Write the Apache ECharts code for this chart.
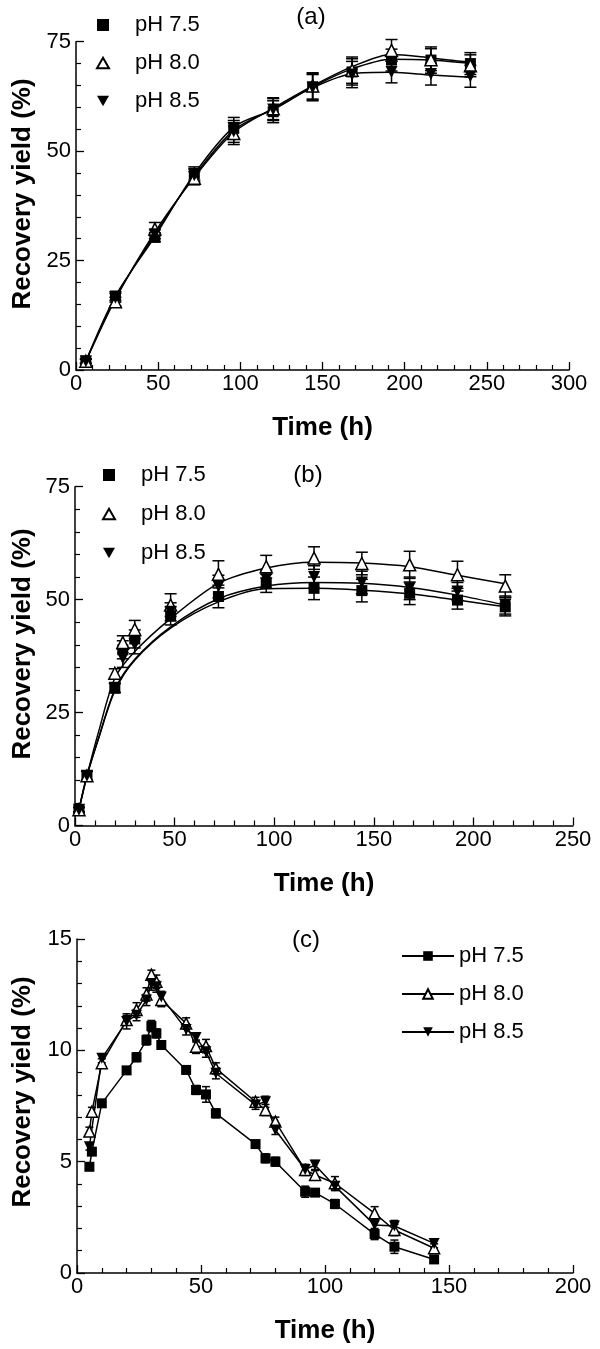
<!DOCTYPE html>
<html><head><meta charset="utf-8">
<script src="https://cdn.jsdelivr.net/npm/echarts@6/dist/echarts.min.js"></script>
<style>html,body{margin:0;padding:0;background:#fff}#c{width:600px;height:1349px}</style>
</head><body><div id="c"></div>
<script>
// ---------- data ----------
const LABELS = ['pH 7.5', 'pH 8.0', 'pH 8.5'];

// Panel (a)
const A_T = [6, 24, 48, 72, 96, 120, 144, 168, 192, 216, 240];
const A_75 = [2.0, 16.9, 30.3, 44.9, 55.2, 59.0, 64.7, 68.1, 70.8, 70.8, 70.0];
const A_80 = [2.0, 15.6, 32.2, 43.8, 54.0, 59.7, 64.9, 68.5, 73.0, 70.9, 69.5];
const A_85 = [2.0, 16.5, 31.0, 44.5, 54.5, 59.5, 64.5, 67.5, 68.1, 67.6, 67.1];
const A_75_ERR = [0.5, 1.0, 1.0, 1.5, 2.5, 2.5, 3.0, 3.0, 2.5, 3.0, 2.5];
const A_80_ERR = [0.5, 1.0, 1.5, 1.5, 2.5, 2.5, 3.0, 3.0, 2.5, 2.5, 2.5];
const A_85_ERR = [0.5, 1.0, 1.0, 1.5, 2.5, 2.5, 3.0, 3.0, 2.5, 2.5, 2.5];
// fitted curves (a)
const A_CURVE_T = [6, 24, 48, 72, 96, 120, 144, 168, 192, 216, 240];
const A_CURVE_75 = [2.0, 16.9, 30.5, 44.8, 55.5, 59.5, 64.7, 68.8, 71.0, 70.8, 70.0];
const A_CURVE_80 = [2.0, 16.2, 31.5, 44.0, 54.3, 59.8, 64.9, 69.3, 72.1, 71.3, 70.3];
const A_CURVE_85 = [2.0, 16.5, 31.0, 44.3, 54.8, 59.6, 64.5, 67.7, 68.0, 67.4, 66.9];

// Panel (b)
const B_T = [2, 6, 20, 24, 30, 48, 72, 96, 120, 144, 168, 192, 216];
const B_75 = [3.5, 11.0, 30.4, 38.9, 41.3, 46.4, 50.7, 53.6, 52.5, 52.0, 51.4, 49.9, 48.4];
const B_80 = [3.5, 11.0, 33.7, 40.5, 43.4, 48.8, 55.6, 57.3, 59.2, 58.0, 57.7, 55.5, 53.0];
const B_85 = [3.5, 11.0, 30.5, 37.0, 40.0, 47.3, 52.9, 54.5, 55.0, 53.8, 52.5, 51.8, 48.8];
const B_75_ERR = [0.5, 1.0, 1.0, 2.0, 2.0, 2.0, 2.5, 2.0, 2.5, 2.5, 2.5, 2.0, 2.0];
const B_80_ERR = [0.5, 1.0, 1.0, 1.5, 2.0, 2.5, 3.0, 2.5, 2.5, 2.5, 3.0, 3.0, 2.5];
const B_85_ERR = [0.5, 1.0, 1.0, 2.0, 2.0, 2.0, 2.5, 2.0, 2.5, 2.5, 2.5, 2.0, 2.0];
// fitted curves (b)
const B_CURVE_T = [2, 6, 12, 20, 30, 48, 72, 96, 120, 144, 168, 192, 216];
const B_CURVE_75 = [3.5, 11.0, 19.5, 29.8, 36.6, 43.7, 49.5, 52.4, 52.5, 52.1, 51.3, 49.9, 48.4];
const B_CURVE_80 = [3.5, 11.0, 21.0, 32.6, 38.5, 45.8, 53.6, 57.0, 58.3, 58.1, 57.3, 55.4, 53.5];
const B_CURVE_85 = [3.5, 11.0, 19.6, 30.1, 36.8, 44.0, 50.2, 53.0, 53.8, 53.6, 52.7, 51.0, 48.8];

// Panel (c)
const C_T = [5, 6, 10, 20, 24, 28, 30, 32, 34, 44, 48, 52, 56, 72, 76, 80, 92, 96, 104, 120, 128, 144];
const C_75 = [4.77, 5.45, 7.62, 9.10, 9.69, 10.46, 11.09, 10.76, 10.24, 9.12, 8.22, 8.02, 7.17, 5.79, 5.15, 5.00, 3.65, 3.61, 3.10, 1.75, 1.18, 0.61];
const C_80 = [6.35, 7.24, 9.42, 11.36, 11.81, 12.51, 13.40, 13.08, 12.26, 11.21, 10.16, 10.19, 9.19, 7.69, 7.32, 6.80, 4.63, 4.40, 4.03, 2.68, 1.93, 1.11];
const C_85 = [5.67, null, 9.64, 11.30, 11.58, 12.26, 13.00, 12.86, 12.40, 10.94, 10.58, 9.94, 8.97, 7.55, 7.69, 6.42, 4.65, 4.85, 3.90, 2.16, 2.11, 1.33];
const C_75_ERR = [0.1, 0.15, 0.15, 0.15, 0.2, 0.22, 0.25, 0.2, 0.15, 0.15, 0.2, 0.35, 0.2, 0.15, 0.2, 0.2, 0.25, 0.15, 0.2, 0.25, 0.3, 0.15];
const C_80_ERR = [0.2, 0.2, 0.2, 0.2, 0.33, 0.3, 0.2, 0.3, 0.3, 0.25, 0.3, 0.3, 0.25, 0.2, 0.25, 0.2, 0.25, 0.2, 0.3, 0.3, 0.25, 0.2];
const C_85_ERR = [0.15, null, 0.2, 0.34, 0.25, 0.25, 0.3, 0.25, 0.25, 0.25, 0.2, 0.25, 0.25, 0.2, 0.25, 0.2, 0.2, 0.2, 0.2, 0.25, 0.25, 0.2];

// ---------- styling helpers ----------
const FONT = 'Liberation Sans, Arial, sans-serif';
const SYM_SQ = 'path://M0,0L1,0L1,1L0,1Z';
const SYM_UP = 'path://M1,0L2,1.732L0,1.732Z';
const SYM_DN = 'path://M0,0L2,0L1,1.732Z';
const MARKS = [
  {symbol: SYM_SQ, size: 11, item: {color: '#000', opacity: 1}},
  {symbol: SYM_UP, size: 12, item: {color: '#fff', borderColor: '#000', borderWidth: 1.5, opacity: 1}},
  {symbol: SYM_DN, size: 12, item: {color: '#000', opacity: 1}}
];

function pts(T, V) { const o = []; T.forEach((t, i) => { if (V[i] != null) o.push([t, V[i]]); }); return o; }
function bars(T, V, E) { const o = []; T.forEach((t, i) => { if (V[i] != null && E[i] != null) o.push([t, V[i] - E[i], V[i] + E[i]]); }); return o; }

function errSeries(idx, T, V, E, cap) {
  return {
    type: 'custom', xAxisIndex: idx, yAxisIndex: idx, z: 2, silent: true,
    data: bars(T, V, E),
    encode: {x: 0, y: [1, 2]},
    renderItem: function (params, api) {
      const x = api.value(0);
      const p1 = api.coord([x, api.value(1)]);
      const p2 = api.coord([x, api.value(2)]);
      const st = {stroke: '#000', lineWidth: 1.5};
      return {type: 'group', children: [
        {type: 'line', shape: {x1: p1[0], y1: p1[1], x2: p2[0], y2: p2[1]}, style: st},
        {type: 'line', shape: {x1: p1[0] - cap, y1: p1[1], x2: p1[0] + cap, y2: p1[1]}, style: st},
        {type: 'line', shape: {x1: p2[0] - cap, y1: p2[1], x2: p2[0] + cap, y2: p2[1]}, style: st}
      ]};
    }
  };
}

function xAx(idx, max) {
  return {
    type: 'value', gridIndex: idx, min: 0, max: max, interval: 50,
    name: 'Time (h)', nameLocation: 'middle', nameGap: 45,
    nameTextStyle: {fontFamily: FONT, fontWeight: 'bold', fontSize: 26, color: '#000'},
    axisLine: {onZero: false, lineStyle: {color: '#000', width: 1.5}},
    axisTick: {inside: true, length: 8, lineStyle: {color: '#000', width: 1.3}},
    minorTick: {show: true, splitNumber: 5, length: 5, lineStyle: {color: '#000', width: 1.2}},
    splitLine: {show: false},
    axisLabel: {color: '#000', fontSize: 22, fontFamily: FONT, margin: 3, showMinLabel: true, showMaxLabel: true}
  };
}
function yAx(idx, max, interval) {
  return {
    type: 'value', gridIndex: idx, min: 0, max: max, interval: interval,
    axisLine: {show: true, onZero: false, lineStyle: {color: '#000', width: 1.5}},
    axisTick: {show: true, inside: true, length: 8, lineStyle: {color: '#000', width: 1.3}},
    minorTick: {show: true, splitNumber: 5, length: 5, lineStyle: {color: '#000', width: 1.2}},
    splitLine: {show: false},
    axisLabel: {color: '#000', fontSize: 22, fontFamily: FONT, margin: 5, showMinLabel: true, showMaxLabel: true}
  };
}

const series = [];
// Panel (a)
[A_CURVE_75, A_CURVE_80, A_CURVE_85].forEach((c) => {
  series.push({type: 'line', xAxisIndex: 0, yAxisIndex: 0, data: pts(A_CURVE_T, c), smooth: 0.3,
    showSymbol: false, symbol: 'none', lineStyle: {color: '#000', width: 1.5}, z: 1, silent: true});
});
[[A_75, A_75_ERR], [A_80, A_80_ERR], [A_85, A_85_ERR]].forEach((d) => {
  series.push(errSeries(0, A_T, d[0], d[1], 6));
});
[A_75, A_80, A_85].forEach((v, i) => {
  series.push({type: 'scatter', name: '(a) ' + LABELS[i], xAxisIndex: 0, yAxisIndex: 0, data: pts(A_T, v),
    symbol: MARKS[i].symbol, symbolSize: MARKS[i].size, itemStyle: MARKS[i].item, z: 3});
});
// Panel (b)
[B_CURVE_75, B_CURVE_80, B_CURVE_85].forEach((c) => {
  series.push({type: 'line', xAxisIndex: 1, yAxisIndex: 1, data: pts(B_CURVE_T, c), smooth: 0.3,
    showSymbol: false, symbol: 'none', lineStyle: {color: '#000', width: 1.5}, z: 1, silent: true});
});
[[B_75, B_75_ERR], [B_80, B_80_ERR], [B_85, B_85_ERR]].forEach((d) => {
  series.push(errSeries(1, B_T, d[0], d[1], 6));
});
[B_75, B_80, B_85].forEach((v, i) => {
  series.push({type: 'scatter', name: '(b) ' + LABELS[i], xAxisIndex: 1, yAxisIndex: 1, data: pts(B_T, v),
    symbol: MARKS[i].symbol, symbolSize: MARKS[i].size, itemStyle: MARKS[i].item, z: 3});
});
// Panel (c)
[[C_75, C_75_ERR], [C_80, C_80_ERR], [C_85, C_85_ERR]].forEach((d) => {
  series.push(errSeries(2, C_T, d[0], d[1], 4));
});
[C_75, C_80, C_85].forEach((v, i) => {
  series.push({type: 'line', name: '(c) ' + LABELS[i], xAxisIndex: 2, yAxisIndex: 2, data: pts(C_T, v),
    symbol: MARKS[i].symbol, symbolSize: MARKS[i].size - 1, showAllSymbol: true, itemStyle: MARKS[i].item,
    lineStyle: {color: '#000', width: 1.5}, z: 3});
});

function legend(prefix, left, top, gap, w, h, padLeft) {
  return {
    data: LABELS.map(l => prefix + l), orient: 'vertical', left: left, top: top,
    itemWidth: w, itemHeight: h, itemGap: gap, padding: 0, selectedMode: false,
    formatter: n => n.slice(4),
    textStyle: {fontSize: 22, fontFamily: FONT, color: '#000', padding: [0, 0, 0, padLeft]}
  };
}

const option = {
  animation: false,
  backgroundColor: '#fff',
  grid: [
    {left: 76, top: 41.7, width: 493, height: 328.3},
    {left: 75, top: 486.7, width: 498, height: 338.8},
    {left: 77, top: 939, width: 496, height: 334}
  ],
  xAxis: [xAx(0, 300), xAx(1, 250), xAx(2, 200)],
  yAxis: [yAx(0, 75, 25), yAx(1, 75, 25), yAx(2, 15, 5)],
  legend: [
    legend('(a) ', 96, 14, 16, 12, 12, 21),
    legend('(b) ', 102, 464, 17, 12, 12, 21),
    legend('(c) ', 401, 945, 16, 52, 12, 0)
  ],
  graphic: [
    {type: 'text', x: 311, y: 17, style: {text: '(a)', font: '24px ' + FONT, fill: '#000', textAlign: 'center', textVerticalAlign: 'middle'}},
    {type: 'text', x: 308, y: 475, style: {text: '(b)', font: '24px ' + FONT, fill: '#000', textAlign: 'center', textVerticalAlign: 'middle'}},
    {type: 'text', x: 306, y: 940, style: {text: '(c)', font: '24px ' + FONT, fill: '#000', textAlign: 'center', textVerticalAlign: 'middle'}},
    {type: 'text', x: 23, y: 194, rotation: Math.PI / 2, style: {text: 'Recovery yield (%)', font: 'bold 26px ' + FONT, fill: '#000', textAlign: 'center', textVerticalAlign: 'middle'}},
    {type: 'text', x: 23, y: 644, rotation: Math.PI / 2, style: {text: 'Recovery yield (%)', font: 'bold 26px ' + FONT, fill: '#000', textAlign: 'center', textVerticalAlign: 'middle'}},
    {type: 'text', x: 23, y: 1092, rotation: Math.PI / 2, style: {text: 'Recovery yield (%)', font: 'bold 26px ' + FONT, fill: '#000', textAlign: 'center', textVerticalAlign: 'middle'}}
  ],
  series: series
};
const chart = echarts.init(document.getElementById('c'), null, {renderer: 'canvas'});
chart.setOption(option);
</script></body></html>
